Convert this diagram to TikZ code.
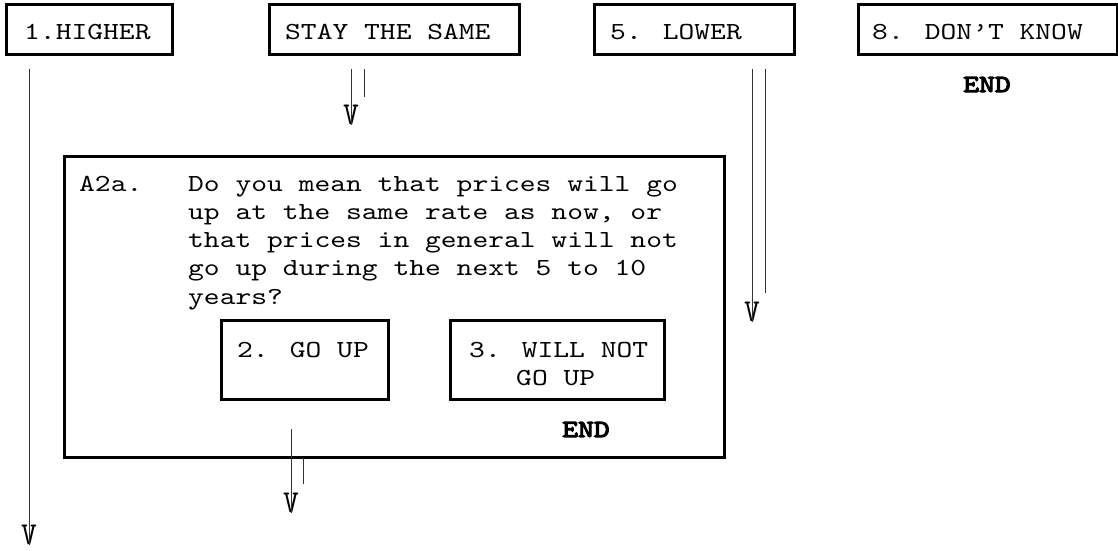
\documentclass[tikz,border=0pt]{standalone}
\usepackage{fontspec}
% typewriter face, widened to a 0.6em advance
\newfontfamily\courfont{lmmono10-regular.otf}[FakeStretch=1.228]
\newfontfamily\courbold{lmmono10-regular.otf}[FakeStretch=1.228,FakeBold=4.5]
\newcommand\qtxt{\courfont\fontsize{24.5}{28.3}\selectfont}
\newcommand\qbold{\courbold\fontsize{24.5}{28.3}\selectfont}
\newcommand\vglyph{\scalebox{1}[1.3]{V}}
\begin{document}
\begin{tikzpicture}[x=1pt,y=-1pt,
  optbox/.style={draw, line width=3pt, inner sep=0pt, anchor=north west},
  lbl/.style={anchor=base west, inner sep=0pt, font=\qtxt},
  endlbl/.style={anchor=base, inner sep=0pt, font=\qbold},
  vtip/.style={anchor=south, inner sep=0pt, font=\qtxt},
  flow/.style={line width=1pt, draw=black!80}]
\useasboundingbox (0,0) rectangle (1118,550);

% answer boxes of the first question
\node[optbox, minimum width=166pt, minimum height=50pt] (hi) at (5,3) {};
\node[lbl] (hiT) at (24,39) {1.HIGHER};
\node[optbox, minimum width=250pt, minimum height=50pt] (same) at (268,3) {};
\node[lbl] (sameT) at (285,39) {STAY THE SAME};
\node[optbox, minimum width=200pt, minimum height=50pt] (lo) at (593,3) {};
\node[lbl] (loT) at (610,39) {5. LOWER};
\node[optbox, minimum width=259pt, minimum height=50pt] (dk) at (857,3) {};
\node[lbl] (dkT) at (872,39) {8. DON\char"2019T KNOW};
\node[endlbl] (dkEnd) at (987,92) {END};

% follow-up question A2a
\node[optbox, minimum width=660pt, minimum height=301pt] (q) at (63,155) {};
\node[lbl] (qNum) at (79,191) {A2a.};
\node[lbl] (q1) at (188,191) {Do you mean that prices will go};
\node[lbl] (q2) at (188,219.3) {up at the same rate as now, or};
\node[lbl] (q3) at (188,247.6) {that prices in general will not};
\node[lbl] (q4) at (188,275.9) {go up during the next 5 to 10};
\node[lbl] (q5) at (188,304.2) {years?};

\node[optbox, minimum width=167pt, minimum height=79pt] (up) at (220,319) {};
\node[lbl] (upT) at (237,357) {2. GO UP};
\node[optbox, minimum width=214pt, minimum height=79pt] (notup) at (449,319) {};
\node[lbl] (notupT1) at (469,357) {3. WILL NOT};
\node[lbl] (notupT2) at (516,385.5) {GO UP};
\node[endlbl] (qEnd) at (586,437) {END};

% flow lines with their V heads
\coordinate (hiA) at (29,69);
\node[vtip] (hiV) at (29,545) {\vglyph};
\draw[flow] (hiA) -- (hiV.south);

\coordinate (sameA) at (351,69);
\coordinate (sameB) at (364,69);
\coordinate (sameBe) at (364,97);
\node[vtip] (sameV) at (351,125) {\vglyph};
\draw[flow] (sameA) -- (sameV.south);
\draw[flow] (sameB) -- (sameBe);

\coordinate (loA) at (752,69);
\coordinate (loB) at (765,69);
\coordinate (loBe) at (765,293);
\node[vtip] (loV) at (752,322) {\vglyph};
\draw[flow] (loA) -- (loV.south);
\draw[flow] (loB) -- (loBe);

\coordinate (upA) at (291,429);
\coordinate (upB) at (303,458);
\coordinate (upBe) at (303,484);
\node[vtip] (upV) at (291,513) {\vglyph};
\draw[flow] (upA) -- (upV.south);
\draw[flow] (upB) -- (upBe);
\end{tikzpicture}
\end{document}
